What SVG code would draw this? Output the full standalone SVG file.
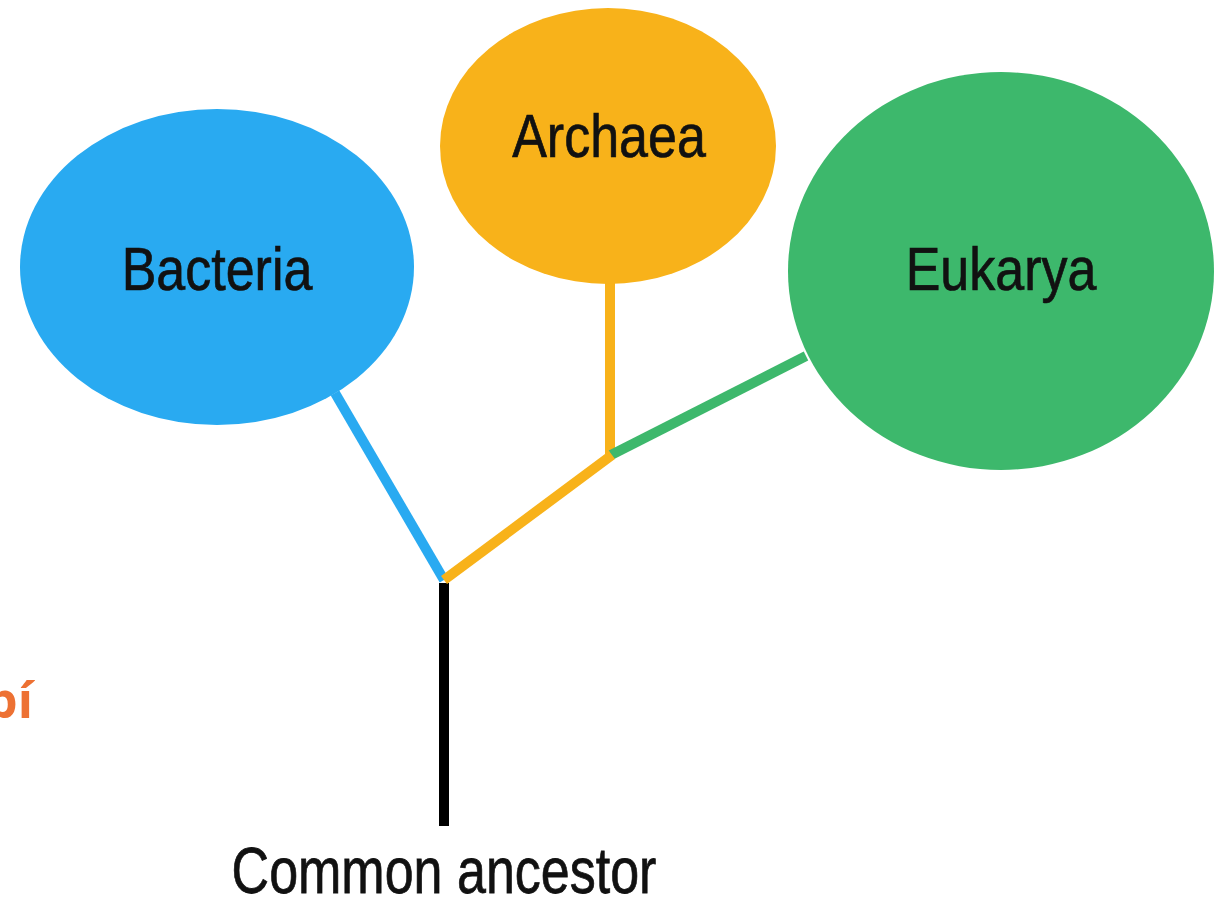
<svg xmlns="http://www.w3.org/2000/svg" width="1214" height="900" viewBox="0 0 1214 900">
<style>
.lbl{font-family:"Liberation Sans",Arial,sans-serif;font-size:52px;fill:#111;stroke:#111;stroke-width:0.6;text-anchor:middle}
.br{fill:none;stroke-width:10;stroke-linecap:butt}
</style>
<rect width="1214" height="900" fill="#fff"/>
<g id="connectors">
<line class="br" x1="444" y1="583" x2="444" y2="826" stroke="#000" stroke-width="9"/>
<line class="br" x1="335" y1="393" x2="444" y2="580" stroke="#29aaf1"/>
<line class="br" x1="610" y1="283" x2="610" y2="456" stroke="#f8b21a"/>
<line class="br" x1="611" y1="455" x2="806" y2="356" stroke="#3db86c"/>
<line class="br" x1="444" y1="580" x2="612" y2="455" stroke="#f8b21a"/>
</g>
<g id="bacteria">
<ellipse cx="217" cy="267" rx="197" ry="158" fill="#29aaf1"/>
<text class="lbl" transform="translate(217,290) scale(1,1.18)">Bacteria</text>
</g>
<g id="archaea">
<ellipse cx="608" cy="146" rx="168" ry="138" fill="#f8b21a"/>
<text class="lbl" transform="translate(609,157) scale(1,1.18)">Archaea</text>
</g>
<g id="eukarya">
<ellipse cx="1001" cy="271" rx="213" ry="199" fill="#3db86c"/>
<text class="lbl" transform="translate(1001,290) scale(1,1.18)">Eukarya</text>
</g>
<g id="ancestor">
<text class="lbl" transform="translate(444,893) scale(1,1.25)" font-size="53">Common ancestor</text>
</g>
<text x="-14" y="718" font-family="'Open Sans','Liberation Sans',sans-serif" font-weight="bold" font-size="50" fill="#ed7133">pí</text>
</svg>
